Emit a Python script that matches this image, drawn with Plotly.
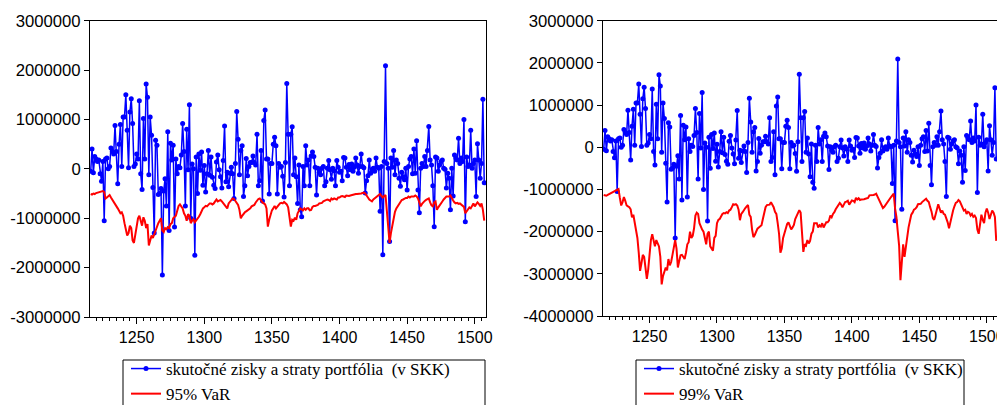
import plotly.graph_objects as go

# ---------------- data (values in millions of SKK) ----------------
t_start = 1216

pnl_mil = [
    -0.05, 0.4, -0.08, 0.25, 0.2, 0.15, 0.18, -0.1, -0.25, 0.15,
    -1.05, 0.2, 0.22, 0.0, 0.05, 0.42, 0.35, 0.3, 0.88, 0.35,
    -0.3, 0.5, 0.9, 0.05, 1.05, 1.05, 1.5, 0.78, 0.02, 1.15,
    1.42, 0.92, 0.05, 0.1, 0.3, 0.2, 1.38, -0.1, -0.42, 1.02,
    0.2, 1.72, 1.45, -0.12, 1.05, 0.68, -0.38, -1.3, 0.58, 0.48,
    -0.52, -0.5, -0.4, -2.15, -0.45, -0.2, -0.75, 0.75, -1.25, 0.52,
    0.18, 0.48, -1.18, 0.2, -0.1, 0.05, 0.02, 0.28, 0.92, 0.35,
    -0.75, 0.8, -0.02, 1.3, -1.0, 0.1, 0.0, -1.75,
    0.24, -0.5, 0.3, -0.03, 0.34, -0.33, 0.07, -0.47, -0.1, 0.37,
    -0.13, 0.24, -0.17, -0.33, -0.4, 0.14,
    0.28, -0.02, -0.16, -0.39, 0.17, 0.87, -0.26, -0.07, -0.36, -0.09,
    0.03, -0.1, -0.6, 0.11, 1.16, 0.6, -0.12, 0.37, 0.47, -0.56,
    -0.34, 0.21, -0.14, 0.05, 0.13, 0.13, 0.26, 0.13, 0.08, 0.7,
    -0.34, -0.24, 0.37, -0.65, 0.98, 1.19, 0.2, 0.2, -0.51, 0.11,
    0.11, 0.5, 0.64, 0.47, -0.51, 0.11, 0.03, 0.05, -0.15, -0.57,
    0.13, 1.73, 0.7, -0.34, 0.7, 0.85, -0.12, 0.22, -0.16, -0.7,
    0.08, -0.83, -0.97, 0.05, -0.34, 0.47, 0.08, 0.18, -0.34, 0.26,
    0.34, 0.25, 0.03, -0.53, 0.01, -0.07, -0.12, 0.01, 0.05, -0.34,
    -0.26, 0.01, 0.17, -0.02, -0.21, 0.01, -0.04, -0.34, 0.17, 0.03,
    -0.07, -0.05, -0.24, 0.23, 0.22, 0.03, -0.14, 0.09, -0.02,
    0.1, -0.05, 0.03, 0.22, 0.08, -0.09, 0.05, 0.3, 0.05,
    0.02, -0.49, -0.24, -0.14, 0.18, -0.09, -0.02, 0.01, -0.05, 0.22,
    0.03, 0.01, -0.86, 0.05, -1.74, 0.15, 2.09, 0.11, 0.01, -1.47,
    0.22, 0.03, 0.37, -0.12, 0.18, 0.11, -0.19, -0.35, -0.07, -0.16,
    -0.22, 0.01, -0.43, 0.05, 0.2, 0.25, -0.1, 0.4, -0.09, 0.57,
    -0.43, -0.89, 0.01, 0.11, 0.05, 0.25, 0.05, 0.37, 0.86, 0.18,
    0.08, -0.34, -1.17, 0.24, 0.22, -0.05, 0.08, 0.15, 0.18, 0.01,
    -0.01, -0.39, -0.09, -0.19, -0.83, 0.01, -0.55, 0.28, 0.22, 0.18,
    0.62, 0.11, 0.22, 0.15, 1.0, -1.07, 0.24, 0.05, 0.08, 0.78,
    0.01, 0.11, 0.18, -0.56, 0.51, 0.18, -0.19, 0.11, 1.41, -0.28,
]

var95_mil = [
    -0.51, -0.52, -0.5, -0.51, -0.49, -0.48, -0.47, -0.46, -0.45, -0.45,
    -0.47, -0.6, -0.58, -0.55, -0.53, -0.58, -0.62, -0.68, -0.72, -0.75,
    -0.8, -0.85, -0.9, -0.88, -0.95, -1.1, -1.2, -1.35, -1.3, -1.15,
    -1.2, -1.45, -1.5, -1.35, -1.2, -1.0, -0.95, -1.05, -1.15, -0.98,
    -1.05, -1.2, -1.12, -1.55, -1.45, -1.35, -1.4, -1.32, -1.25, -1.2,
    -1.1, -1.05, -1.0, -1.25, -1.28, -1.2, -1.22, -1.18, -1.2, -1.12,
    -1.1, -1.0, -0.98, -0.95, -0.85, -0.75, -0.72, -0.75, -0.8, -0.9,
    -0.95, -1.05, -0.92, -0.95, -1.1, -1.05, -1.02, -1.08, -1.05, -1.0,
    -0.97, -0.92, -0.85, -0.8, -0.78, -0.75, -0.76, -0.72, -0.7, -0.7,
    -0.72, -0.7, -0.65, -0.62,
    -0.66, -0.64, -0.63, -0.66, -0.69, -0.72, -0.76, -0.8, -0.7, -0.66,
    -0.63, -0.6, -0.61, -0.66, -0.7, -0.73, -0.83, -1.0, -0.95, -0.9,
    -0.88, -0.86, -0.84, -0.83, -0.8, -0.76, -0.74, -0.73, -0.68, -0.64,
    -0.61, -0.6, -0.65, -0.68, -0.7, -0.72, -0.8, -1.17, -1.03, -0.93,
    -0.84, -0.8, -0.75, -0.8, -0.76, -0.73, -0.7, -0.69, -0.7, -0.67,
    -0.69, -0.72, -0.78, -0.97, -1.17, -1.03, -1.05, -0.99, -1.03, -0.9,
    -0.83, -0.8, -0.82, -0.84, -0.8, -0.83, -0.8, -0.8, -0.84, -0.83,
    -0.77, -0.75, -0.75, -0.74, -0.73, -0.7, -0.7, -0.69, -0.66, -0.65,
    -0.63, -0.62, -0.63, -0.65, -0.6, -0.62, -0.6, -0.61, -0.62, -0.58,
    -0.58, -0.56, -0.55, -0.56, -0.57, -0.54, -0.55, -0.55, -0.54,
    -0.53, -0.53, -0.52, -0.51, -0.51, -0.51, -0.51, -0.5, -0.49, -0.48,
    -0.5, -0.53, -0.58, -0.62, -0.64, -0.66, -0.62, -0.6, -0.58, -0.56,
    -0.54, -0.51, -0.55, -0.58, -0.55, -0.53, -0.85, -1.2, -1.5, -1.3,
    -1.15, -1.0, -0.87, -0.8, -0.75, -0.72, -0.67, -0.63, -0.62, -0.6,
    -0.59, -0.59, -0.56, -0.58, -0.56, -0.56, -0.56, -0.54, -0.56, -0.6,
    -0.7, -0.76, -0.71, -0.67, -0.65, -0.63, -0.61, -0.6, -0.68, -0.74,
    -0.76, -0.68, -0.66, -0.83, -0.78, -0.73, -0.7, -0.66, -0.62, -0.58,
    -0.56, -0.56, -0.56, -0.54, -0.6, -0.64, -0.68, -0.7, -0.69, -0.71,
    -0.7, -0.72, -0.74, -0.77, -0.9, -0.86, -0.8, -0.78, -0.8, -0.73,
    -0.7, -0.76, -0.72, -0.68, -0.71, -0.75, -0.7, -0.83, -1.05,
]

var99_mil = [
    -1.13, -1.14, -1.15, -1.13, -1.11, -1.1, -1.08, -1.06, -1.05, -1.03,
    -1.01, -0.99, -1.2, -1.38, -1.3, -1.18, -1.27, -1.38, -1.4, -1.42,
    -1.47, -1.66, -1.6, -1.8, -1.95, -2.15, -2.5, -2.93, -2.75, -2.55,
    -2.6, -2.95, -3.12, -2.9, -2.45, -2.2, -2.06, -2.2, -2.35, -2.2,
    -2.3, -2.35, -2.6, -3.25, -3.05, -2.95, -2.85, -2.92, -2.65, -2.8,
    -2.72, -2.55, -2.4, -2.2, -2.4, -2.85, -2.7, -2.56, -2.55, -2.6,
    -2.65, -2.5, -2.3, -2.25, -2.0, -2.15, -2.1, -1.92, -1.62, -1.55,
    -1.58, -1.8, -1.9, -1.95, -2.0, -2.2, -2.3, -2.05, -2.0, -2.35,
    -2.4, -2.45, -2.15, -2.1, -1.8, -1.72, -1.7, -1.62, -1.58, -1.56,
    -1.57, -1.54, -1.56, -1.5, -1.48, -1.42, -1.35, -1.36,
    -1.35, -1.38, -1.48, -1.73, -1.58, -1.54, -1.48, -1.44, -1.4, -1.37,
    -1.6, -1.65, -1.95, -2.13, -2.08, -1.98, -1.93, -1.9, -1.88, -1.85,
    -1.7, -1.52, -1.42, -1.37, -1.36, -1.36, -1.3, -1.35, -1.42, -1.53,
    -1.58, -1.8, -2.05, -2.5, -2.4, -2.15, -2.05, -1.92, -1.82, -1.78,
    -1.87, -1.95, -1.9, -1.84, -1.7, -1.62, -1.55, -1.49, -1.55, -1.95,
    -2.48, -2.3, -2.33, -2.2, -2.28, -2.22, -2.05, -2.0, -1.8, -1.8,
    -1.8, -1.9, -1.85, -1.88, -1.8, -1.9, -1.85, -1.78, -1.78, -1.74,
    -1.62, -1.66, -1.58, -1.54, -1.47, -1.42, -1.36, -1.32, -1.36, -1.42,
    -1.36, -1.3, -1.29, -1.27, -1.36, -1.3, -1.26, -1.27, -1.3, -1.2,
    -1.24, -1.21, -1.25, -1.24, -1.24,
    -1.23, -1.22, -1.21, -1.2, -1.14, -1.14, -1.13, -1.13, -1.12, -1.1,
    -1.17, -1.24, -1.3, -1.38, -1.44, -1.41, -1.36, -1.3, -1.25, -1.21,
    -1.18, -1.14, -1.1, -1.45, -1.65, -2.0, -2.33, -3.15, -2.8, -2.3,
    -2.6, -2.33, -2.05, -1.9, -1.75, -1.6, -1.55, -1.48, -1.46, -1.42,
    -1.35, -1.34, -1.34, -1.3, -1.27, -1.24, -1.22, -1.27, -1.3, -1.42,
    -1.52, -1.68, -1.72, -1.6, -1.44, -1.35, -1.45, -1.55, -1.5, -1.58,
    -1.6, -1.68, -1.78, -1.92, -1.75, -1.6, -1.5, -1.4, -1.32, -1.3,
    -1.25, -1.28, -1.35, -1.4, -1.5, -1.48, -1.58, -1.53, -1.55, -1.62,
    -1.58, -1.65, -1.62, -1.68, -1.95, -2.05, -1.8, -1.6, -1.72, -1.8,
    -1.55, -1.45, -1.55, -1.7, -1.6, -1.5, -1.55, -1.65, -2.22,
]

x_tick_vals = [1250, 1300, 1350, 1400, 1450, 1500]
y_ticks_left = [3000000, 2000000, 1000000, 0, -1000000, -2000000, -3000000]
y_ticks_right = [3000000, 2000000, 1000000, 0, -1000000, -2000000, -3000000, -4000000]

name_pnl = "skutočné zisky a straty portfólia \u00a0(v SKK)"
name_95 = "95% VaR"
name_99 = "99% VaR"

# ---------------- build ----------------
MIL = 1_000_000
def xs(vals):
    return list(range(t_start, t_start + len(vals)))

pnl = [v * MIL for v in pnl_mil]
v95 = [v * MIL for v in var95_mil]
v99 = [v * MIL for v in var99_mil]

BLUE = "#0000FF"
RED = "#FF0000"

fig = go.Figure()
fig.add_trace(go.Scatter(x=xs(pnl), y=pnl, mode="lines+markers", name=name_pnl,
                         line=dict(color=BLUE, width=1.5), marker=dict(color=BLUE, size=5),
                         xaxis="x", yaxis="y", legend="legend"))
fig.add_trace(go.Scatter(x=xs(v95), y=v95, mode="lines", name=name_95,
                         line=dict(color=RED, width=2), xaxis="x", yaxis="y", legend="legend"))
fig.add_trace(go.Scatter(x=xs(pnl), y=pnl, mode="lines+markers", name=name_pnl,
                         line=dict(color=BLUE, width=1.5), marker=dict(color=BLUE, size=5),
                         xaxis="x2", yaxis="y2", legend="legend2"))
fig.add_trace(go.Scatter(x=xs(v99), y=v99, mode="lines", name=name_99,
                         line=dict(color=RED, width=2), xaxis="x2", yaxis="y2", legend="legend2"))

# page offset (body margin) = 8 px; figure coordinates = page - 8
OFF = 8
W, H = 1005 - OFF, 405 - OFF
sans = "Liberation Sans, Arial, sans-serif"
serif = "Liberation Serif, Times New Roman, serif"

def fx(px):
    return (px - OFF) / W

def fy(py):
    return 1 - (py - OFF) / H

def xaxis(domain, anchor):
    return dict(domain=domain, anchor=anchor, range=[1215.5, 1508.3],
                tickvals=x_tick_vals, ticktext=[str(v) for v in x_tick_vals],
                ticks="outside", ticklen=6, tickcolor="black", tickwidth=1,
                minor=dict(dtick=5, tick0=1200, ticks="outside", ticklen=3,
                           tickcolor="black", tickwidth=1, showgrid=False),
                showline=True, linecolor="black", linewidth=1, mirror=True,
                showgrid=False, zeroline=False, automargin=False,
                tickfont=dict(family=sans, size=16, color="black"))

def yaxis(domain, anchor, ticks, rng):
    return dict(domain=domain, anchor=anchor, range=rng,
                tickvals=ticks, ticktext=[str(v) for v in ticks],
                ticks="outside", ticklen=5, tickcolor="black", tickwidth=1,
                showline=True, linecolor="black", linewidth=1, mirror=True,
                showgrid=False, zeroline=False, automargin=False,
                tickfont=dict(family=sans, size=16.7, color="black"))

fig.update_layout(
    width=W, height=H,
    margin=dict(l=0, r=0, t=0, b=0, autoexpand=False),
    paper_bgcolor="white", plot_bgcolor="white",
    xaxis=xaxis([fx(90), fx(486)], "y"),
    yaxis=yaxis([fy(317), fy(20.7)], "x", y_ticks_left, [-3000000, 3000000]),
    xaxis2=xaxis([fx(603), fx(998)], "y2"),
    yaxis2=yaxis([fy(316), fy(20.7)], "x2", y_ticks_right, [-4000000, 3000000]),
    legend=dict(x=fx(126), y=fy(351), xanchor="left", yanchor="top",
                bgcolor="rgba(0,0,0,0)", borderwidth=0,
                font=dict(family=serif, size=17, color="black"),
                tracegroupgap=0),
    legend2=dict(x=fx(639), y=fy(351), xanchor="left", yanchor="top",
                 bgcolor="rgba(0,0,0,0)", borderwidth=0,
                 font=dict(family=serif, size=17, color="black"),
                 tracegroupgap=0),
    shapes=[
        dict(type="rect", xref="paper", yref="paper",
             x0=fx(123), x1=fx(485), y0=fy(430), y1=fy(360),
             line=dict(color="black", width=1), fillcolor="rgba(0,0,0,0)"),
        dict(type="rect", xref="paper", yref="paper",
             x0=fx(636), x1=fx(964), y0=fy(430), y1=fy(360),
             line=dict(color="black", width=1), fillcolor="rgba(0,0,0,0)"),
    ],
    showlegend=True,
)

fig.write_html("out.html")
